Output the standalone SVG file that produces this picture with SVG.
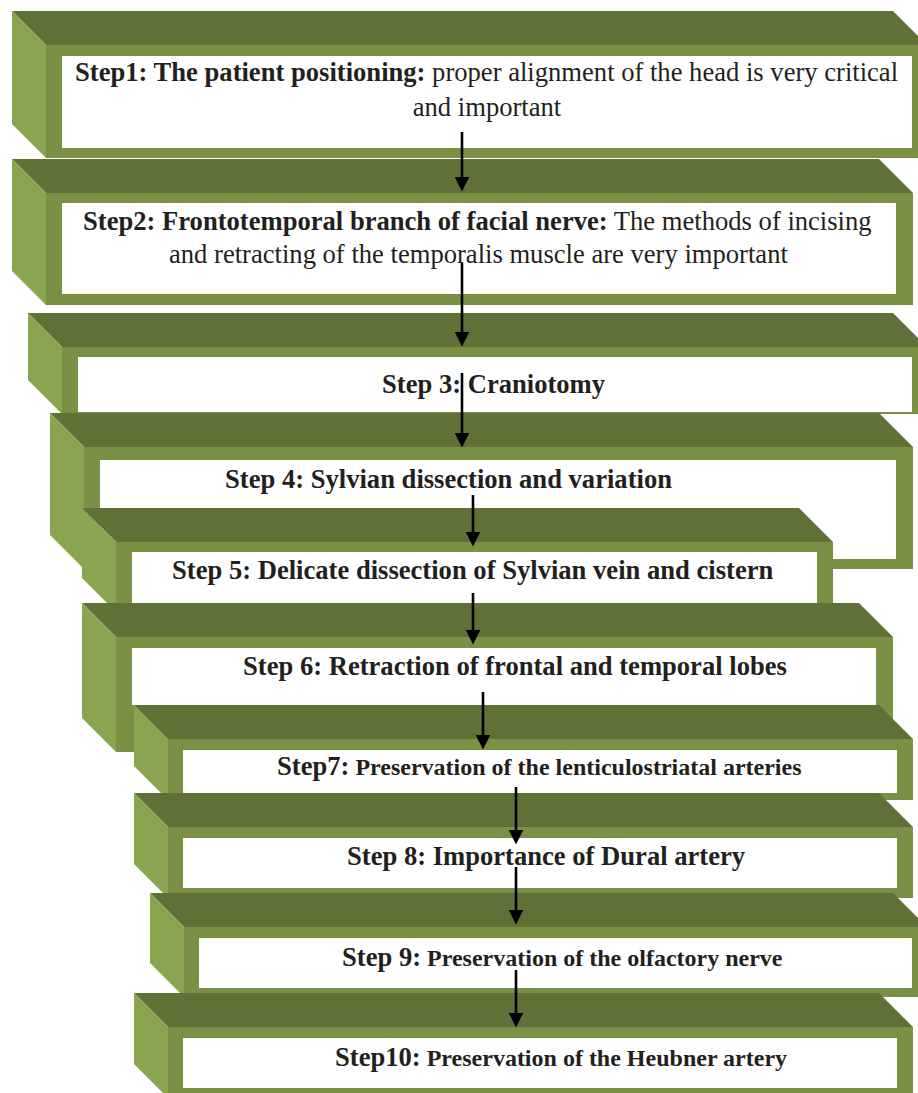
<svg xmlns="http://www.w3.org/2000/svg" width="918" height="1093" viewBox="0 0 918 1093">
<style>
.top{fill:#5f7136}
.left{fill:#8aa54f}
.front{fill:#7a9045}
.white{fill:#ffffff}
text{font-family:"Liberation Serif","Times New Roman",serif;font-size:26.6px;fill:#231f20}
.b{font-weight:bold}
.s{font-size:24px;font-weight:bold}
.conn line{stroke:#000;stroke-width:2.6;marker-end:url(#ah)}
</style>
<defs>
<marker id="ah" markerUnits="userSpaceOnUse" markerWidth="16" markerHeight="16" refX="0.5" refY="7.5" orient="auto">
<path d="M0,0 L15,7.5 L0,15 z" fill="#000"/>
</marker>
</defs>
<rect width="918" height="1093" fill="#fff"/>

<g id="step1">
<polygon class="top" points="12,11 893,11 927,45 46,45"/>
<polygon class="left" points="12,11 46,45 46,158 12,124"/>
<rect class="front" x="46" y="45" width="881" height="113"/>
<rect class="white" x="62" y="56" width="850" height="92"/>
<text x="75" y="81"><tspan class="b">Step1: The patient positioning:</tspan> proper alignment of the head is very critical</text>
<text x="487" y="116" text-anchor="middle">and important</text>
</g>

<g id="step2">
<polygon class="top" points="12,159 879,159 913,193 46,193"/>
<polygon class="left" points="12,159 46,193 46,305 12,271"/>
<rect class="front" x="46" y="193" width="867" height="112"/>
<rect class="white" x="62" y="203" width="834" height="91"/>
<text x="83" y="230"><tspan class="b">Step2: Frontotemporal branch of facial nerve:</tspan> The methods of incising</text>
<text x="169" y="263">and retracting of the temporalis muscle are very important</text>
</g>

<g id="step3">
<polygon class="top" points="28,313 893,313 927,347 62,347"/>
<polygon class="left" points="28,313 62,347 62,414 28,380"/>
<rect class="front" x="62" y="347" width="865" height="67"/>
<rect class="white" x="78" y="357" width="834" height="55"/>
<text class="b" x="382" y="393">Step 3: Craniotomy</text>
</g>

<g id="step4">
<polygon class="top" points="50,413 879,413 913,447 84,447"/>
<polygon class="left" points="50,413 84,447 84,569 50,535"/>
<rect class="front" x="84" y="447" width="829" height="122"/>
<rect class="white" x="100" y="460" width="796" height="99"/>
<text class="b" x="225" y="488">Step 4: Sylvian dissection and variation</text>
</g>

<g id="step5">
<polygon class="top" points="82,508 799,508 833,542 116,542"/>
<polygon class="left" points="82,508 116,542 116,612 82,578"/>
<rect class="front" x="116" y="542" width="717" height="70"/>
<rect class="white" x="132" y="552" width="685" height="53"/>
<text class="b" x="172" y="579">Step 5: Delicate dissection of Sylvian vein and cistern</text>
</g>

<g id="step6">
<polygon class="top" points="82,603 859,603 893,637 116,637"/>
<polygon class="left" points="82,603 116,637 116,752 82,718"/>
<rect class="front" x="116" y="637" width="777" height="115"/>
<rect class="white" x="132" y="648" width="744" height="57"/>
<text class="b" x="243" y="675">Step 6: Retraction of frontal and temporal lobes</text>
</g>

<g id="step7">
<polygon class="top" points="134,705 879,705 913,739 168,739"/>
<polygon class="left" points="134,705 168,739 168,800 134,766"/>
<rect class="front" x="168" y="739" width="745" height="61"/>
<rect class="white" x="183" y="750" width="714" height="43"/>
<text class="b" x="277" y="775">Step7:<tspan class="s"> Preservation of the lenticulostriatal arteries</tspan></text>
</g>

<g id="step8">
<polygon class="top" points="134,793 879,793 913,827 168,827"/>
<polygon class="left" points="134,793 168,827 168,898 134,864"/>
<rect class="front" x="168" y="827" width="745" height="71"/>
<rect class="white" x="183" y="838" width="714" height="50"/>
<text class="b" x="347" y="865">Step 8: Importance of Dural artery</text>
</g>

<g id="step9">
<polygon class="top" points="150,893 893,893 927,927 184,927"/>
<polygon class="left" points="150,893 184,927 184,997 150,963"/>
<rect class="front" x="184" y="927" width="743" height="70"/>
<rect class="white" x="199" y="938" width="713" height="50"/>
<text class="b" x="342" y="966">Step 9:<tspan class="s"> Preservation of the olfactory nerve</tspan></text>
</g>

<g id="step10">
<polygon class="top" points="134,993 879,993 913,1027 168,1027"/>
<polygon class="left" points="134,993 168,1027 168,1098 134,1064"/>
<rect class="front" x="168" y="1027" width="745" height="71"/>
<rect class="white" x="183" y="1038" width="714" height="50"/>
<text class="b" x="335" y="1066">Step10:<tspan class="s"> Preservation of the Heubner artery</tspan></text>
</g>

<g id="connectors" class="conn">
<line x1="462" y1="132" x2="462" y2="177"/>
<line x1="462" y1="263" x2="462" y2="332"/>
<line x1="462" y1="373" x2="462" y2="433"/>
<line x1="473" y1="495" x2="473" y2="532"/>
<line x1="473" y1="593" x2="473" y2="630"/>
<line x1="483" y1="692" x2="483" y2="735"/>
<line x1="516" y1="787" x2="516" y2="830"/>
<line x1="516" y1="867" x2="516" y2="910"/>
<line x1="516" y1="970" x2="516" y2="1013"/>
</g>
</svg>
